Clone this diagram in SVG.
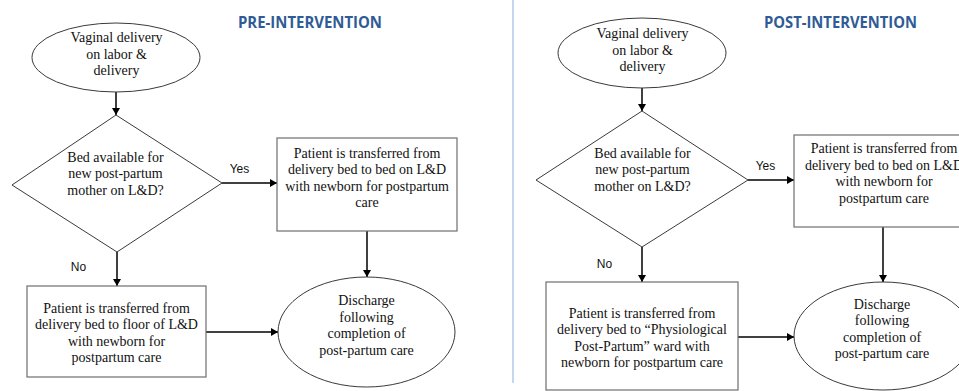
<svg xmlns="http://www.w3.org/2000/svg" width="959" height="391" viewBox="0 0 959 391">
<style>
  .shape { fill: #ffffff; stroke: #3a3a3a; stroke-width: 1; }
  .box { fill: #ffffff; stroke: #6e6e6e; stroke-width: 1.2; }
  .t { font-family: "Liberation Serif", "Times New Roman", serif; font-size: 14px; fill: #111; text-anchor: middle; }
  .lbl { font-family: "Liberation Sans", Arial, sans-serif; font-size: 12px; fill: #111; text-anchor: middle; }
  .title { font-family: "Open Sans", "Liberation Sans", sans-serif; font-weight: bold; font-size: 15.5px; fill: #2f5b96; text-anchor: middle; }
  .conn { stroke: #000; stroke-width: 1.5; fill: none; marker-end: url(#ah); }
</style>
<defs>
  <marker id="ah" markerUnits="userSpaceOnUse" markerWidth="8" markerHeight="8" refX="7" refY="4" orient="auto">
    <path d="M0,0 L7,4 L0,8 Z" fill="#000"/>
  </marker>
</defs>
<rect x="0" y="0" width="959" height="391" fill="#ffffff"/>

<line x1="513" y1="0" x2="513" y2="383" stroke="#b3c9e8" stroke-width="1.5"/>

<text class="title" x="310" y="28" textLength="144" lengthAdjust="spacingAndGlyphs">PRE-INTERVENTION</text>
<text class="title" x="840.5" y="28" textLength="153" lengthAdjust="spacingAndGlyphs">POST-INTERVENTION</text>

<g id="connectors">
  <line class="conn" x1="116" y1="92" x2="116" y2="115"/>
  <line class="conn" x1="222" y1="183" x2="277" y2="183"/>
  <line class="conn" x1="367" y1="231" x2="367" y2="277"/>
  <line class="conn" x1="117" y1="252" x2="117" y2="286"/>
  <line class="conn" x1="206" y1="332" x2="278" y2="332"/>
  <line class="conn" x1="642" y1="88" x2="642" y2="111"/>
  <line class="conn" x1="748" y1="180" x2="794" y2="180"/>
  <line class="conn" x1="883" y1="227" x2="883" y2="282"/>
  <line class="conn" x1="642" y1="247" x2="642" y2="282"/>
  <line class="conn" x1="738" y1="337" x2="794" y2="337"/>
  <text class="lbl" x="239.5" y="173">Yes</text>
  <text class="lbl" x="78.5" y="271">No</text>
  <text class="lbl" x="765.5" y="169.5">Yes</text>
  <text class="lbl" x="604.5" y="267.5">No</text>
</g>

<g id="pre-start">
  <ellipse class="shape" cx="116" cy="57.5" rx="84" ry="34.5"/>
  <text class="t" x="116.5" y="42">Vaginal delivery</text>
  <text class="t" x="116.5" y="58.5">on labor &amp;</text>
  <text class="t" x="116.5" y="75">delivery</text>
</g>
<g id="pre-decision">
  <polygon class="shape" points="116,115 222,183 117,252 12,185"/>
  <text class="t" x="115.5" y="161.5">Bed available for</text>
  <text class="t" x="115.5" y="178">new post-partum</text>
  <text class="t" x="115.5" y="194.5">mother on L&amp;D?</text>
</g>
<g id="pre-yes-box">
  <rect class="box" x="277" y="138" width="180" height="93"/>
  <text class="t" x="367" y="157.5">Patient is transferred from</text>
  <text class="t" x="367" y="174">delivery bed to bed on L&amp;D</text>
  <text class="t" x="367" y="190.5">with newborn for postpartum</text>
  <text class="t" x="367" y="207">care</text>
</g>
<g id="pre-no-box">
  <rect class="box" x="27" y="286" width="179" height="91"/>
  <text class="t" x="116.5" y="312.5">Patient is transferred from</text>
  <text class="t" x="116.5" y="329">delivery bed to floor of L&amp;D</text>
  <text class="t" x="116.5" y="345.5">with newborn for</text>
  <text class="t" x="116.5" y="362">postpartum care</text>
</g>
<g id="pre-discharge">
  <ellipse class="shape" cx="366.5" cy="332" rx="88.5" ry="55"/>
  <text class="t" x="366.5" y="305">Discharge</text>
  <text class="t" x="366.5" y="321.5">following</text>
  <text class="t" x="366.5" y="338">completion of</text>
  <text class="t" x="366.5" y="354.5">post-partum care</text>
</g>

<g id="post-start">
  <ellipse class="shape" cx="642" cy="53" rx="84" ry="35"/>
  <text class="t" x="642.5" y="38">Vaginal delivery</text>
  <text class="t" x="642.5" y="54.5">on labor &amp;</text>
  <text class="t" x="642.5" y="71">delivery</text>
</g>
<g id="post-decision">
  <polygon class="shape" points="642,111 748,180 642,247 536,180"/>
  <text class="t" x="642.5" y="157.5">Bed available for</text>
  <text class="t" x="642.5" y="174">new post-partum</text>
  <text class="t" x="642.5" y="190.5">mother on L&amp;D?</text>
</g>
<g id="post-yes-box">
  <rect class="box" x="794" y="135" width="178" height="92"/>
  <text class="t" x="884" y="153">Patient is transferred from</text>
  <text class="t" x="884" y="169.5">delivery bed to bed on L&amp;D</text>
  <text class="t" x="884" y="186">with newborn for</text>
  <text class="t" x="884" y="202.5">postpartum care</text>
</g>
<g id="post-no-box">
  <rect class="box" x="546" y="282" width="192" height="108"/>
  <text class="t" x="642" y="317.5">Patient is transferred from</text>
  <text class="t" x="642" y="334">delivery bed to “Physiological</text>
  <text class="t" x="642" y="350.5">Post-Partum” ward with</text>
  <text class="t" x="642" y="367">newborn for postpartum care</text>
</g>
<g id="post-discharge">
  <ellipse class="shape" cx="883" cy="336" rx="89" ry="54"/>
  <text class="t" x="882" y="308.5">Discharge</text>
  <text class="t" x="882" y="325">following</text>
  <text class="t" x="882" y="341.5">completion of</text>
  <text class="t" x="882" y="358">post-partum care</text>
</g>
</svg>
